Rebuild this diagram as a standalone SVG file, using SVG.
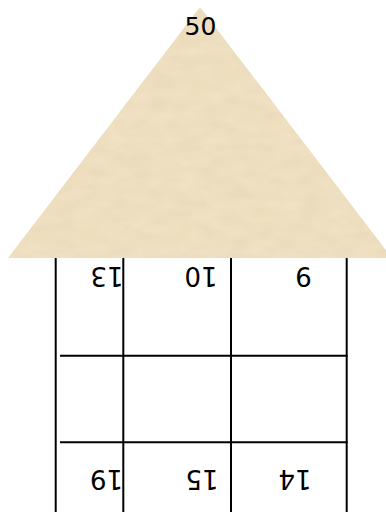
<svg xmlns="http://www.w3.org/2000/svg" width="386" height="512" viewBox="0 0 386 512">
  <style>
    .grid { stroke: #000; stroke-width: 2; fill: none; }
    .num { font-family: "DejaVu Sans", sans-serif; font-size: 26px; fill: #000; text-anchor: middle; }
    .top { font-family: "DejaVu Sans", sans-serif; font-size: 25px; fill: #000; text-anchor: middle; }
  </style>
  <defs>
    <filter id="parchment" x="0" y="0" width="100%" height="100%">
      <feTurbulence type="fractalNoise" baseFrequency="0.04 0.09" numOctaves="4" seed="7" result="noise"/>
      <feColorMatrix in="noise" type="matrix" values="0 0 0 0 0.6  0 0 0 0 0.5  0 0 0 0 0.35  0 0 0 0.3 -0.05" result="tint"/>
      <feComposite in="tint" in2="SourceGraphic" operator="in" result="spots"/>
      <feMerge><feMergeNode in="SourceGraphic"/><feMergeNode in="spots"/></feMerge>
    </filter>
  </defs>
  <rect width="386" height="512" fill="#fff"/>
  <g id="grid-lines">
    <line class="grid" x1="55.7" y1="258" x2="55.7" y2="512"/>
    <line class="grid" x1="123.3" y1="258" x2="123.3" y2="512"/>
    <line class="grid" x1="231" y1="258" x2="231" y2="512"/>
    <line class="grid" x1="346.7" y1="258" x2="346.7" y2="512"/>
    <line class="grid" x1="60" y1="355.7" x2="347.7" y2="355.7"/>
    <line class="grid" x1="60" y1="442.3" x2="347.7" y2="442.3"/>
  </g>
  <g id="roof">
    <polygon points="200,7 8,258 392,258" fill="#f1e2c2" filter="url(#parchment)"/>
    <text class="top" x="200.5" y="35">50</text>
  </g>
  <g id="cell-13"><text class="num" transform="translate(107,276.5) rotate(180)" x="0" y="9.5">13</text></g>
  <g id="cell-10"><text class="num" transform="translate(201,276.5) rotate(180)" x="0" y="9.5">10</text></g>
  <g id="cell-9"><text class="num" transform="translate(303.5,276.5) rotate(180)" x="0" y="9.5">9</text></g>
  <g id="cell-19"><text class="num" transform="translate(106.5,479) rotate(180)" x="0" y="9.5">19</text></g>
  <g id="cell-15"><text class="num" transform="translate(202,479) rotate(180)" x="0" y="9.5">15</text></g>
  <g id="cell-14"><text class="num" transform="translate(295,479) rotate(180)" x="0" y="9.5">14</text></g>
</svg>
